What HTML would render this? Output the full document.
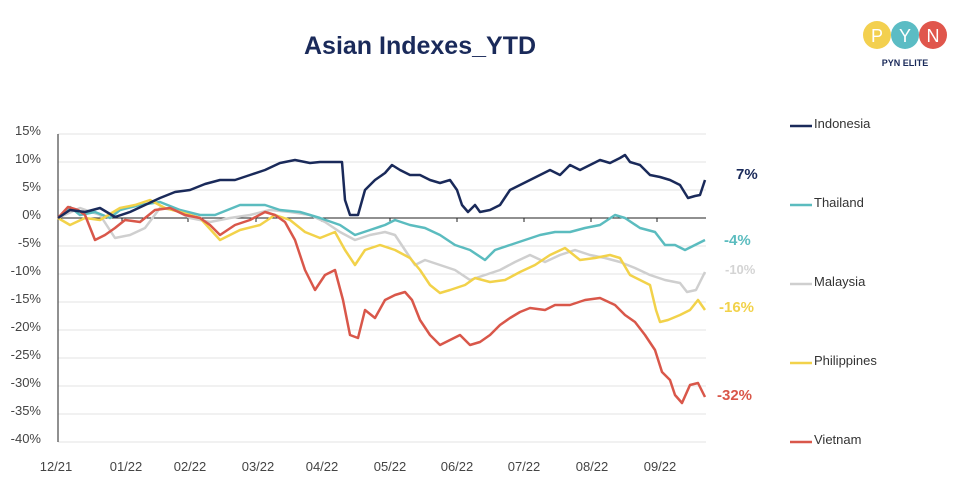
<!DOCTYPE html>
<html><head><meta charset="utf-8"><style>
body{margin:0;background:#fff;width:955px;height:487px;overflow:hidden}
svg text{font-family:"Liberation Sans",sans-serif}
</style></head><body>
<svg width="955" height="487" viewBox="0 0 955 487">
<text x="420" y="54" text-anchor="middle" font-size="25" font-weight="bold" fill="#1a2a5a">Asian Indexes_YTD</text>
<circle cx="877" cy="35" r="14" fill="#f3d04f"/><circle cx="905" cy="35" r="14" fill="#5bbcc4"/><circle cx="933" cy="35" r="14" fill="#e0564c"/>
<text x="877" y="42" text-anchor="middle" font-size="18" fill="#fff" font-family="Liberation Serif">P</text>
<text x="905" y="42" text-anchor="middle" font-size="18" fill="#fff">Y</text>
<text x="933" y="42" text-anchor="middle" font-size="18" fill="#fff">N</text>
<text x="905" y="66" text-anchor="middle" font-size="9" font-weight="bold" fill="#1a2a5a">PYN ELITE</text>
<g stroke="#e3e3e3" stroke-width="1">
<line x1="58" x2="706" y1="134" y2="134"/><line x1="58" x2="706" y1="162" y2="162"/><line x1="58" x2="706" y1="190" y2="190"/>
<line x1="58" x2="706" y1="246" y2="246"/><line x1="58" x2="706" y1="274" y2="274"/><line x1="58" x2="706" y1="302" y2="302"/>
<line x1="58" x2="706" y1="330" y2="330"/><line x1="58" x2="706" y1="358" y2="358"/><line x1="58" x2="706" y1="386" y2="386"/>
<line x1="58" x2="706" y1="414" y2="414"/><line x1="58" x2="706" y1="442" y2="442"/>
</g>
<line x1="58" x2="58" y1="134" y2="442" stroke="#222" stroke-width="1"/>
<line x1="58" x2="706" y1="218" y2="218" stroke="#222" stroke-width="1"/>
<g stroke="#222"><line x1="122" x2="122" y1="218" y2="222"/><line x1="188" x2="188" y1="218" y2="222"/><line x1="256" x2="256" y1="218" y2="222"/><line x1="322" x2="322" y1="218" y2="222"/><line x1="390" x2="390" y1="218" y2="222"/><line x1="457" x2="457" y1="218" y2="222"/><line x1="524" x2="524" y1="218" y2="222"/><line x1="591" x2="591" y1="218" y2="222"/><line x1="657" x2="657" y1="218" y2="222"/></g>
<g font-size="13" fill="#444" text-anchor="end">
<text x="41" y="135">15%</text><text x="41" y="163">10%</text><text x="41" y="191">5%</text><text x="41" y="219">0%</text>
<text x="41" y="247">-5%</text><text x="41" y="275">-10%</text><text x="41" y="303">-15%</text><text x="41" y="331">-20%</text>
<text x="41" y="359">-25%</text><text x="41" y="387">-30%</text><text x="41" y="415">-35%</text><text x="41" y="443">-40%</text>
</g>
<g font-size="13" fill="#444" text-anchor="middle">
<text x="56" y="471">12/21</text><text x="126" y="471">01/22</text><text x="190" y="471">02/22</text><text x="258" y="471">03/22</text><text x="322" y="471">04/22</text><text x="390" y="471">05/22</text><text x="457" y="471">06/22</text><text x="524" y="471">07/22</text><text x="592" y="471">08/22</text><text x="660" y="471">09/22</text>
</g>
<g fill="none" stroke-width="2.5" stroke-linejoin="round">
<polyline stroke="#cfcfcf" points="58,218 80,208 100,215 115,238 130,235 145,228 160,208 175,210 190,218 210,222 230,218 250,215 270,210 290,212 310,215 325,222 340,232 355,240 370,235 385,232 395,235 405,250 415,265 425,260 440,265 455,270 470,280 485,275 500,270 515,262 530,255 545,262 560,255 575,250 590,255 605,258 620,262 635,268 650,275 665,280 680,283 687,292 696,290 705,272"/>
<polyline stroke="#5bbcbf" points="58,218 70,207 80,215 95,212 110,218 120,210 140,205 160,202 180,210 200,215 215,215 240,205 265,205 280,210 300,212 320,218 340,225 355,235 370,230 385,225 395,220 410,225 425,228 440,235 455,245 470,250 485,260 495,250 510,245 525,240 540,235 555,232 570,232 585,228 600,225 615,215 625,218 640,228 655,232 665,245 675,245 685,250 695,245 705,240"/>
<polyline stroke="#f2d24a" points="58,218 70,225 85,218 100,220 120,208 135,205 150,200 165,208 180,212 200,218 220,240 240,230 260,225 275,215 290,220 305,232 320,238 335,232 345,250 355,265 365,250 380,245 395,250 410,258 420,270 430,285 440,293 450,290 465,285 475,278 490,282 505,280 520,272 535,265 550,255 565,248 580,260 595,258 610,255 620,258 630,275 640,280 650,285 656,310 660,322 668,320 680,315 690,310 698,300 705,310"/>
<polyline stroke="#d9574a" points="58,218 68,207 78,210 85,215 95,240 105,235 115,228 125,220 140,222 155,210 170,208 185,215 200,218 210,225 220,235 235,225 250,220 265,212 275,215 285,222 295,240 305,270 315,290 325,275 335,270 343,300 350,335 358,338 365,310 375,318 385,300 395,295 405,292 412,300 420,320 430,335 440,345 450,340 460,335 470,345 480,342 490,335 500,325 510,318 520,312 530,308 545,310 555,305 570,305 585,300 600,298 615,305 625,315 635,322 645,335 655,350 662,372 670,380 675,395 682,403 690,385 698,383 705,397"/>
<polyline stroke="#1a2a5a" points="58,218 70,210 85,212 100,208 115,217 130,212 145,205 160,198 175,192 190,190 205,184 220,180 235,180 250,175 265,170 280,163 295,160 310,163 320,162 330,162 342,162 345,200 350,215 358,215 365,190 375,180 385,173 392,165 400,170 410,175 420,175 430,180 440,183 450,180 457,190 462,205 468,212 475,205 480,212 490,210 500,205 510,190 520,185 530,180 540,175 550,170 560,175 570,165 580,170 590,165 600,160 610,163 620,158 625,155 630,162 640,165 650,175 660,177 670,180 680,185 688,198 695,196 700,195 705,180"/>
</g>
<g font-size="15" font-weight="bold">
<text x="736" y="179" fill="#1a2a5a">7%</text>
<text x="724" y="245" fill="#5bbcbf">-4%</text>
<text x="725" y="274" fill="#d4d4d4" font-size="13">-10%</text>
<text x="719" y="312" fill="#f2d24a">-16%</text>
<text x="717" y="400" fill="#d9574a">-32%</text>
</g>
<g stroke-width="2.5">
<line x1="790" x2="812" y1="126" y2="126" stroke="#1a2a5a"/>
<line x1="790" x2="812" y1="205" y2="205" stroke="#5bbcbf"/>
<line x1="790" x2="812" y1="284" y2="284" stroke="#cfcfcf"/>
<line x1="790" x2="812" y1="363" y2="363" stroke="#f2d24a"/>
<line x1="790" x2="812" y1="442" y2="442" stroke="#d9574a"/>
</g>
<g font-size="13" fill="#333">
<text x="814" y="128">Indonesia</text><text x="814" y="207">Thailand</text><text x="814" y="286">Malaysia</text><text x="814" y="365">Philippines</text><text x="814" y="444">Vietnam</text>
</g>
</svg>
</body></html>
